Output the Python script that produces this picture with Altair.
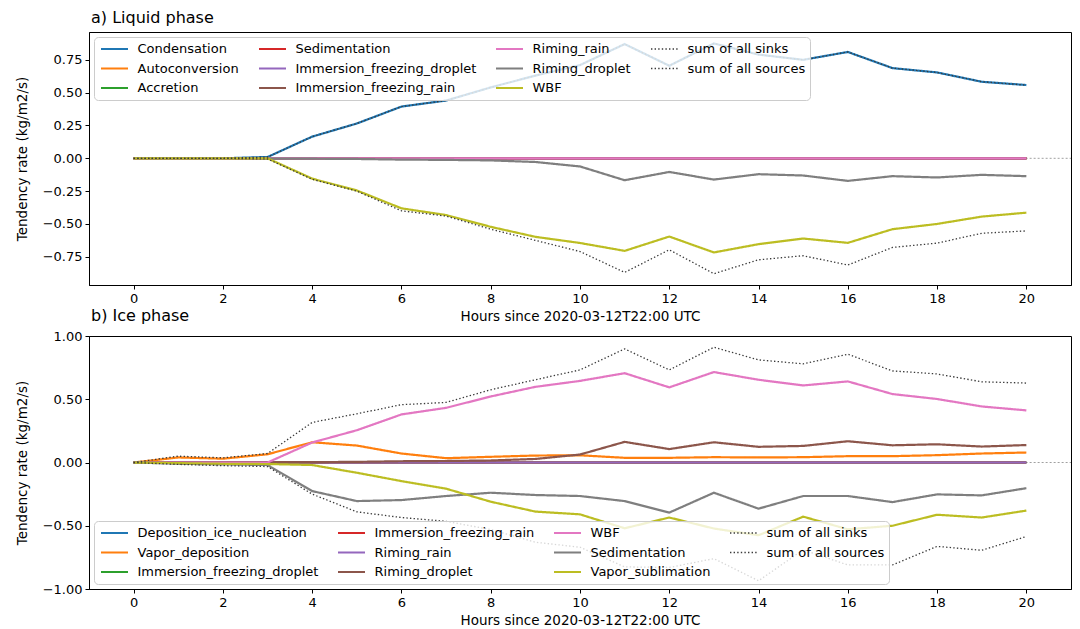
import altair as alt
import pandas as pd

hours = [0, 1, 2, 3, 4, 5, 6, 7, 8, 9, 10, 11, 12, 13, 14, 15, 16, 17, 18, 19, 20]

# ---------------- a) Liquid phase ----------------
liq_condensation = [0, 0, 0, 0.01, 0.165, 0.265, 0.394, 0.44, 0.54, 0.63, 0.71, 0.87, 0.705, 0.875, 0.79, 0.75, 0.81, 0.687, 0.654, 0.583, 0.558]
liq_autoconversion = [0, 0, 0, 0, 0, 0, 0, 0, 0, 0, 0, 0, 0, 0, 0, 0, 0, 0, 0, 0, 0]
liq_accretion = [0, 0, 0, 0, 0, 0, 0, 0, 0, 0, 0, 0, 0, 0, 0, 0, 0, 0, 0, 0, 0]
liq_sedimentation = [0, 0, 0, 0, 0, 0, 0, 0, 0, 0, 0, 0, 0, 0, 0, 0, 0, 0, 0, 0, 0]
liq_imm_freezing_droplet = [0, 0, 0, 0, 0, 0, 0, 0, 0, 0, 0, 0, 0, 0, 0, 0, 0, 0, 0, 0, 0]
liq_imm_freezing_rain = [0, 0, 0, 0, 0, 0, 0, 0, 0, 0, 0, 0, 0, 0, 0, 0, 0, 0, 0, 0, 0]
liq_riming_rain = [0, 0, 0, 0, 0, 0, 0, 0, 0, 0, 0, 0, 0, 0, 0, 0, 0, 0, 0, 0, 0]
liq_riming_droplet = [0, 0, 0, -0.002, -0.003, -0.005, -0.01, -0.012, -0.016, -0.028, -0.062, -0.167, -0.104, -0.162, -0.121, -0.131, -0.172, -0.136, -0.146, -0.126, -0.136]
liq_wbf = [0, 0, 0, 0, -0.155, -0.245, -0.381, -0.432, -0.522, -0.598, -0.645, -0.705, -0.596, -0.717, -0.654, -0.611, -0.644, -0.54, -0.5, -0.444, -0.414]
liq_sum_sinks = [0, 0, 0, -0.005, -0.16, -0.25, -0.4, -0.44, -0.54, -0.625, -0.71, -0.869, -0.697, -0.879, -0.773, -0.742, -0.813, -0.679, -0.646, -0.571, -0.553]
liq_sum_sources = [0, 0, 0, 0.01, 0.165, 0.265, 0.394, 0.44, 0.54, 0.63, 0.71, 0.87, 0.705, 0.875, 0.79, 0.75, 0.81, 0.687, 0.654, 0.583, 0.558]

# ---------------- b) Ice phase ----------------
ice_deposition_nucleation = [0, 0, 0, 0, 0, 0, 0, 0, 0, 0, 0, 0, 0, 0, 0, 0, 0, 0, 0, 0, 0]
ice_vapor_deposition = [0, 0.04, 0.03, 0.065, 0.16, 0.134, 0.071, 0.034, 0.045, 0.055, 0.057, 0.037, 0.037, 0.042, 0.04, 0.042, 0.05, 0.05, 0.058, 0.071, 0.079]
ice_imm_freezing_droplet = [0, 0, 0, 0, 0, 0, 0, 0, 0, 0, 0, 0, 0, 0, 0, 0, 0, 0, 0, 0, 0]
ice_imm_freezing_rain = [0, 0, 0, 0, 0, 0, 0, 0, 0, 0, 0, 0, 0, 0, 0, 0, 0, 0, 0, 0, 0]
ice_riming_rain = [0, 0, 0, 0, 0, 0, 0, 0, 0, 0, 0, 0, 0, 0, 0, 0, 0, 0, 0, 0, 0]
ice_riming_droplet = [0, 0, 0, 0.002, 0.003, 0.005, 0.01, 0.012, 0.016, 0.028, 0.063, 0.163, 0.106, 0.16, 0.124, 0.131, 0.168, 0.136, 0.144, 0.126, 0.138]
ice_wbf = [0, 0, 0, 0, 0.158, 0.255, 0.38, 0.432, 0.522, 0.598, 0.645, 0.706, 0.594, 0.715, 0.654, 0.609, 0.641, 0.541, 0.502, 0.443, 0.412]
ice_sedimentation = [0, -0.01, -0.015, -0.02, -0.226, -0.305, -0.297, -0.265, -0.239, -0.257, -0.265, -0.305, -0.396, -0.239, -0.365, -0.265, -0.265, -0.313, -0.252, -0.26, -0.203]
ice_vapor_sublimation = [0, -0.005, -0.01, -0.012, -0.02, -0.081, -0.147, -0.207, -0.31, -0.388, -0.41, -0.52, -0.435, -0.522, -0.575, -0.428, -0.528, -0.5, -0.413, -0.435, -0.38]
ice_sum_sinks = [0, -0.015, -0.025, -0.032, -0.25, -0.39, -0.435, -0.465, -0.53, -0.63, -0.67, -0.825, -0.83, -0.76, -0.935, -0.69, -0.81, -0.81, -0.663, -0.694, -0.585]
ice_sum_sources = [0, 0.05, 0.037, 0.071, 0.317, 0.385, 0.457, 0.475, 0.575, 0.654, 0.732, 0.898, 0.732, 0.911, 0.811, 0.78, 0.856, 0.724, 0.7, 0.638, 0.628]

C = ["#1f77b4", "#ff7f0e", "#2ca02c", "#d62728", "#9467bd",
     "#8c564b", "#e377c2", "#7f7f7f", "#bcbd22"]
SUM_COLOR = "#3a3a3a"
SOLID = [1, 0]
DOTTED = [1.4, 2.2]

liquid_draw = [
    ("Condensation", liq_condensation, C[0]),
    ("Autoconversion", liq_autoconversion, C[1]),
    ("Accretion", liq_accretion, C[2]),
    ("Sedimentation", liq_sedimentation, C[3]),
    ("Immersion_freezing_droplet", liq_imm_freezing_droplet, C[4]),
    ("Immersion_freezing_rain", liq_imm_freezing_rain, C[5]),
    ("Riming_rain", liq_riming_rain, C[6]),
    ("Riming_droplet", liq_riming_droplet, C[7]),
    ("WBF", liq_wbf, C[8]),
    ("sum of all sinks", liq_sum_sinks, SUM_COLOR),
    ("sum of all sources", liq_sum_sources, SUM_COLOR),
]

ice_draw = [
    ("Deposition_ice_nucleation", ice_deposition_nucleation, C[0]),
    ("Vapor_deposition", ice_vapor_deposition, C[1]),
    ("Immersion_freezing_droplet", ice_imm_freezing_droplet, C[2]),
    ("Immersion_freezing_rain", ice_imm_freezing_rain, C[3]),
    ("Riming_rain", ice_riming_rain, C[4]),
    ("Riming_droplet", ice_riming_droplet, C[5]),
    ("WBF", ice_wbf, C[6]),
    ("Sedimentation", ice_sedimentation, C[7]),
    ("Vapor_sublimation", ice_vapor_sublimation, C[8]),
    ("sum of all sinks", ice_sum_sinks, SUM_COLOR),
    ("sum of all sources", ice_sum_sources, SUM_COLOR),
]

FONT = "DejaVu Sans"


def long_frame(draw):
    rows = []
    for name, vals, _ in draw:
        for h, v in zip(hours, vals):
            rows.append({"series": name, "hour": h, "value": v})
    return pd.DataFrame(rows)


def panel(draw, title, ydomain, yticks, orient):
    df = long_frame(draw)
    domain = [n for n, _, _ in draw]
    colors = [c for _, _, c in draw]
    dashes = [DOTTED if n.startswith("sum") else SOLID for n in domain]
    widths = [1.3 if n.startswith("sum") else 2.2 for n in domain]
    leg = alt.Legend(
        title=None, orient=orient, columns=4, symbolType="stroke", symbolSize=729,
        symbolOffset=1, clipHeight=15,
        labelFontSize=13, labelFont=FONT, labelColor="black", labelOffset=8,
        labelLimit=400, columnPadding=17, rowPadding=4.5, padding=4.5, offset=5,
        fillColor="rgba(255,255,255,0.8)", strokeColor="#cccccc", cornerRadius=4,
    )
    xs = alt.Scale(domain=[-1, 21], nice=False, zero=False)
    ys = alt.Scale(domain=ydomain, nice=False, zero=False)
    zero_rule = alt.Chart(pd.DataFrame({"a": [0]})).mark_rule(
        color="#a0a0a0", strokeDash=[2, 2], strokeWidth=1, clip=True
    ).encode(x=alt.datum(0, scale=xs), x2=alt.datum(21.5), y=alt.datum(0, scale=ys))
    lines = alt.Chart(df).mark_line(clip=True).encode(
        x=alt.X("hour:Q", scale=xs,
                axis=alt.Axis(values=list(range(0, 21, 2)), format="d",
                              title="Hours since 2020-03-12T22:00 UTC")),
        y=alt.Y("value:Q", scale=ys,
                axis=alt.Axis(values=yticks, format=".2f",
                              title="Tendency rate (kg/m2/s)")),
        color=alt.Color("series:N", scale=alt.Scale(domain=domain, range=colors), legend=leg),
        strokeDash=alt.StrokeDash("series:N", scale=alt.Scale(domain=domain, range=dashes), legend=leg),
        strokeWidth=alt.StrokeWidth("series:N", scale=alt.Scale(type="ordinal", domain=domain, range=widths), legend=leg),
        order=alt.Order("hour:Q"),
    )
    return alt.layer(zero_rule, lines).properties(
        width=982, height=253,
        title=alt.Title(title, anchor="start", frame="group", fontSize=16, font=FONT,
                        fontWeight="normal", color="black", offset=6, dx=2),
    )


top = panel(liquid_draw, "a) Liquid phase", [-0.965, 0.962],
            [-0.75, -0.5, -0.25, 0, 0.25, 0.5, 0.75], "top-left")
bottom = panel(ice_draw, "b) Ice phase", [-1, 1],
               [-1, -0.75, -0.5, -0.25, 0, 0.25, 0.5, 0.75, 1], "bottom-left")

chart = alt.vconcat(top, bottom, spacing=51, bounds="flush").resolve_scale(
    color="independent", strokeDash="independent", strokeWidth="independent"
).properties(
    padding={"left": 14, "top": 9, "right": 2, "bottom": 0},
    background="white",
).configure_view(
    stroke="black", strokeWidth=1
).configure_axis(
    labelFont=FONT, titleFont=FONT, labelFontSize=13, titleFontSize=13.5,
    titleFontWeight="normal", labelColor="black", titleColor="black",
    tickColor="black", domainColor="black", tickSize=4, labelPadding=3,
    grid=False, domainWidth=1, tickWidth=1,
).configure_axisY(titlePadding=13).configure_axisX(titlePadding=4)

chart.save("out.html", embed_options={"renderer": "svg", "actions": False})
